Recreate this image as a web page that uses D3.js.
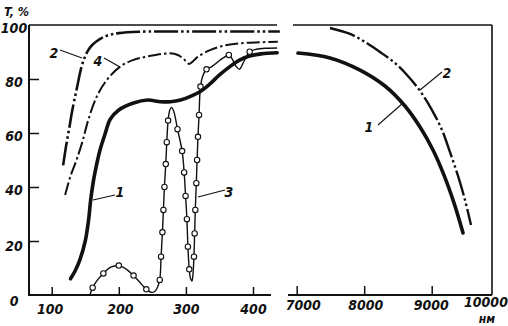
<!DOCTYPE html>
<html><head><meta charset="utf-8">
<script src="https://cdn.jsdelivr.net/npm/d3@7/dist/d3.min.js"></script>
<style>
html,body{margin:0;padding:0;background:#fff;}
svg{display:block;}
text{font-family:"DejaVu Sans Condensed","DejaVu Sans",sans-serif;font-style:italic;font-weight:bold;fill:#111;}
</style></head><body>
<svg id="c" width="508" height="326"></svg>
<script>
// ---- data (wavelength nm, transmission %) ----
const yTicks = [0, 20, 40, 60, 80, 100];
const xTicksLeft = [100, 200, 300, 400];
const xTicksRight = [7000, 8000, 9000];
const lastRightLabel = "10000";
const unitLabel = "нм";
const yLabel = "T, %";

const curve1Left = [[128,6],[135,9],[142,13],[150,20],[155,27.8],[158,35],[162,42],[165,46],[172,53.7],[180,60],[187,65],[200,68.5],[222,71.1],[243,72.2],[262,71.6],[277,71.6],[292,72.2],[306,73.5],[322,75.5],[335,78],[350,81.5],[365,84.5],[380,87],[395,88.5],[412,89.3],[436,89.7]];
const curve2Left = [[117,48],[122,56],[127,63],[130,67.5],[137,76],[144.5,84.6],[150,88.5],[154.5,90.7],[160,92.5],[167,94],[177,95.5],[187,96.4],[200,97],[230,97.5],[300,97.6],[440,97.6]];
const curve4Left = [[120,37],[128,44],[137,50],[146,57],[154.5,64.8],[167,73.4],[182,79.6],[202,84.6],[221,87],[246,88.5],[276,89.5],[288,88.9],[297,87.3],[305,85.6],[311,86.7],[318,88.3],[336,90.7],[361,92.6],[391,93.4],[437,93.8]];
const curve3Left = [[157,0],[161,2.7],[168,5.5],[177,8],[188,10.3],[200,10.9],[211,9.6],[222,7.2],[232,4.5],[241,2.1],[248,1.0],[253,1.2],[257,2.5],[261,5.6],[263,14.2],[265,23.2],[266.5,31.5],[268,40],[270,48.5],[271.5,56.6],[273.5,64.6],[276,68.5],[278.6,69.5],[282,68],[287.5,61.4],[294.4,53.3],[297.4,45.4],[299.5,36.7],[301.5,28.1],[303,17.9],[305,9.5],[307,6],[309,5.2],[310.5,7.5],[312,14.2],[313,22.8],[314,31.5],[315.5,41.4],[316.7,50],[318,58.6],[319.6,66.7],[321.7,77.2],[325,81],[330.7,83.6],[338,84.5],[345,85.8],[355,87.7],[364,88.9],[370,87],[375,84.6],[380,83.6],[385,85.8],[395,90.1],[405,91],[420,91.4],[436,91.5]];
const curve3Marks = [[161,2.7],[177,8],[200,10.9],[222,7.2],[241,2.1],[261,5.6],[263,14.2],[265,23.2],[266.5,31.5],[268,40],[270,48.5],[271.5,56.6],[273.5,64.6],[287.5,61.4],[294.4,53.3],[297.4,45.4],[299.5,36.7],[301.5,28.1],[303,17.9],[305,9.5],[312,14.2],[313,22.8],[314,31.5],[315.5,41.4],[316.7,50],[318,58.6],[319.6,66.7],[321.7,77.2],[330.7,83.6],[364,88.9],[395,90.1]];
const curve1Right = [[7019,89.6],[7493,87.8],[7938,83.3],[8308,77.4],[8604,70],[8827,62.2],[9019,53.7],[9182,44.4],[9330,34.1],[9464,23]];
const curve2Right = [[7493,98.9],[7790,96.7],[8012,93.7],[8234,90],[8456,85.9],[8634,81.5],[8827,75.6],[9004,68.5],[9153,61.1],[9271,52.9],[9390,44.1],[9493,35.2],[9582,25.9]];

// ---- layout ----
const ink = "#111";
const svg = d3.select("#c");
const yTop = 25, yBot = 295;
const L0 = 29, L1 = 271, Ltop1 = 277;
const R0 = 288, Rtop0 = 293, R1 = 492;

const y = d3.scaleLinear().domain([0, 100]).range([yBot, yTop]);
const xL = d3.scaleLinear().domain([100, 400]).range([51.7, 253]);
const xR = d3.scaleLinear().domain([7000, 9000]).range([296.7, 431.7]);

// frame lines
const frame = svg.append("g").attr("stroke", ink).attr("fill", "none");
frame.append("line").attr("x1", L0).attr("x2", L0).attr("y1", yTop).attr("y2", yBot).attr("stroke-width", 2);
frame.append("line").attr("x1", L0 - 1).attr("x2", L1).attr("y1", yBot).attr("y2", yBot).attr("stroke-width", 2);
frame.append("line").attr("x1", L0).attr("x2", Ltop1).attr("y1", yTop).attr("y2", yTop).attr("stroke-width", 1.6);
frame.append("line").attr("x1", R0).attr("x2", R1).attr("y1", yBot).attr("y2", yBot).attr("stroke-width", 2);
frame.append("line").attr("x1", Rtop0).attr("x2", R1).attr("y1", yTop).attr("y2", yTop).attr("stroke-width", 1.6);
frame.append("line").attr("x1", R1).attr("x2", R1).attr("y1", yTop).attr("y2", yBot).attr("stroke-width", 1.6);

// axes
function styleAxis(g) {
  g.select(".domain").remove();
  g.selectAll(".tick line").attr("stroke", ink).attr("stroke-width", 1.5);
  g.selectAll("text").attr("fill", ink).style("font-size", "14px")
    .style("font-family", '"DejaVu Sans Condensed","DejaVu Sans",sans-serif')
    .style("font-style", "italic").style("font-weight", "bold");
}
const gy = svg.append("g").attr("transform", `translate(${L0},0)`)
  .call(d3.axisLeft(y).tickValues(yTicks).tickSize(-10).tickSizeOuter(0));
styleAxis(gy);
gy.selectAll(".tick").filter(d => d === 0 || d === 100).select("line").remove();
gy.selectAll("text").attr("x", -15).attr("text-anchor", "middle").attr("dy", null)
  .attr("y", d => (d === 0 ? 10 : d === 20 ? 9 : 7));

const gxl = svg.append("g").attr("transform", `translate(0,${yBot})`)
  .call(d3.axisBottom(xL).tickValues(xTicksLeft).tickSize(-8).tickSizeOuter(0));
styleAxis(gxl);
gxl.selectAll("text").attr("dy", null).attr("y", 19).attr("dx", d => d === 100 ? -2 : d === 200 ? 1 : 0);

const gxr = svg.append("g").attr("transform", `translate(0,${yBot})`)
  .call(d3.axisBottom(xR).tickValues(xTicksRight).tickFormat(d3.format("d")).tickSize(-9).tickSizeOuter(0));
styleAxis(gxr);
gxr.selectAll("text").attr("dy", null).attr("y", 15).attr("dx", d => d === 7000 ? 6 : d === 9000 ? -1 : 1);

svg.append("text").attr("x", R1 - 6).attr("y", yBot + 12).attr("text-anchor", "middle")
  .style("font-size", "14px").text(lastRightLabel);
svg.append("text").attr("x", 487).attr("y", 323).attr("text-anchor", "middle")
  .style("font-size", "12px").text(unitLabel);
svg.append("text").attr("x", 4).attr("y", 16).style("font-size", "12.5px").text(yLabel);

// curves
const lineL = d3.line().x(d => xL(d[0])).y(d => y(d[1])).curve(d3.curveCatmullRom.alpha(0.5));
const lineR = d3.line().x(d => xR(d[0])).y(d => y(d[1])).curve(d3.curveCatmullRom.alpha(0.5));

const curves = svg.append("g").attr("fill", "none").attr("stroke", ink).attr("stroke-linecap", "butt");
curves.append("path").attr("d", lineL(curve4Left)).attr("stroke-width", 2).attr("stroke-dasharray", "13,3,2.5,3");
curves.append("path").attr("d", lineL(curve2Left)).attr("stroke-width", 2.6).attr("stroke-dasharray", "24,3,2.5,3,2.5,3");
curves.append("path").attr("d", lineL(curve1Left)).attr("stroke-width", 3.6).attr("stroke-linecap", "round");
curves.append("path").attr("d", lineL(curve3Left)).attr("stroke-width", 1.4);
curves.append("path").attr("d", lineR(curve1Right)).attr("stroke-width", 3.6).attr("stroke-linecap", "round");
curves.append("path").attr("d", lineR(curve2Right)).attr("stroke-width", 2.4).attr("stroke-dasharray", "26,3,2.5,3,2.5,3");

svg.append("g").selectAll("circle").data(curve3Marks).join("circle")
  .attr("cx", d => xL(d[0])).attr("cy", d => y(d[1])).attr("r", 2.7)
  .attr("fill", "#fff").attr("stroke", ink).attr("stroke-width", 1.1);

// curve labels with leaders
const labels = [
  {t: "2", x: 54, y: 58, lx1: 60, ly1: 50, lx2: 82, ly2: 58},
  {t: "4", x: 98, y: 66, lx1: 104, ly1: 58, lx2: 120, ly2: 67},
  {t: "1", x: 120, y: 197, lx1: 93, ly1: 200, lx2: 115, ly2: 195},
  {t: "3", x: 229, y: 197, lx1: 198, ly1: 197, lx2: 225, ly2: 190},
  {t: "2", x: 447, y: 78, lx1: 420, ly1: 90, lx2: 442, ly2: 72},
  {t: "1", x: 369, y: 132, lx1: 378, ly1: 125, lx2: 403, ly2: 103}
];
const lg = svg.append("g");
lg.selectAll("line").data(labels).join("line")
  .attr("x1", d => d.lx1).attr("y1", d => d.ly1).attr("x2", d => d.lx2).attr("y2", d => d.ly2)
  .attr("stroke", ink).attr("stroke-width", 1.1);
lg.selectAll("text").data(labels).join("text")
  .attr("x", d => d.x).attr("y", d => d.y).attr("text-anchor", "middle")
  .style("font-size", "14px").text(d => d.t);
</script>
</body></html>
